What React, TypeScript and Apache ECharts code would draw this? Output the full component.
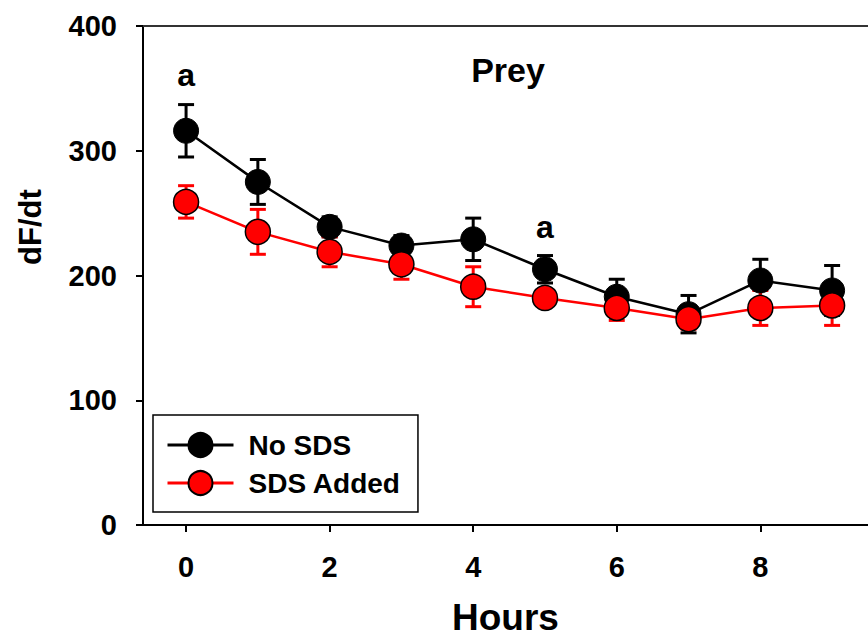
import { useEffect, useRef } from "react";
import * as echarts from "echarts";

const hours = [0, 1, 2, 3, 4, 5, 6, 7, 8, 9];
const noSds = [316, 275, 239, 224, 229, 205, 183, 169, 196, 188];
const noSdsErr = [21, 18, 8, 8, 17, 11, 14, 15, 17, 20];
const sdsAdded = [259, 235, 219, 209, 191, 182, 174, 165, 174, 176];
const sdsAddedErr = [13, 18, 12, 12, 16, 7, 10, 8, 14, 16];
const xTicks = [0, 2, 4, 6, 8];
const annotations = [
  { hour: 0, value: 361, text: "a" },
  { hour: 5, value: 239, text: "a" },
];
const seriesNames = ["No SDS", "SDS Added"];

const FONT = "'Liberation Sans', Arial, sans-serif";

function errorSeries(vals: number[], errs: number[], color: string) {
  return {
    type: "custom",
    silent: true,
    data: hours.map((h, i) => [h, vals[i], errs[i]]),
    renderItem: (_params: any, api: any) => {
      const x = api.value(0);
      const y = api.value(1);
      const e = api.value(2);
      const top = api.coord([x, y + e]);
      const bot = api.coord([x, y - e]);
      const hw = 8;
      const style = { stroke: color, lineWidth: 3 };
      return {
        type: "group",
        children: [
          { type: "line", shape: { x1: top[0], y1: top[1], x2: bot[0], y2: bot[1] }, style },
          { type: "line", shape: { x1: top[0] - hw, y1: top[1], x2: top[0] + hw, y2: top[1] }, style },
          { type: "line", shape: { x1: bot[0] - hw, y1: bot[1], x2: bot[0] + hw, y2: bot[1] }, style },
        ],
      };
    },
  };
}

export default function App() {
  const ref = useRef<HTMLDivElement>(null);
  useEffect(() => {
    if (!ref.current) return;
    const chart = echarts.init(ref.current, null, { renderer: "svg" });
    const axisCommon = {
      type: "value",
      min: -0.6,
      max: 9.5,
      splitLine: { show: false },
    };
    chart.setOption({
      animation: false,
      backgroundColor: "#fff",
      grid: { left: 143, top: 26, right: 0, bottom: 118 },
      xAxis: [
        {
          ...axisCommon,
          position: "bottom",
          name: "Hours",
          nameLocation: "middle",
          nameGap: 74,
          nameTextStyle: { fontFamily: FONT, fontWeight: "bold", fontSize: 37, color: "#000" },
          axisLine: { show: true, onZero: false, lineStyle: { color: "#000", width: 2 } },
          axisTick: { show: true, length: 7, inside: false, customValues: xTicks, lineStyle: { color: "#000", width: 2 } },
          axisLabel: {
            customValues: xTicks,
            margin: 27,
            fontFamily: FONT,
            fontWeight: "bold",
            fontSize: 29,
            color: "#000",
          },
        },
        {
          ...axisCommon,
          position: "top",
          axisLine: { show: true, onZero: false, lineStyle: { color: "#333", width: 2 } },
          axisTick: { show: false },
          axisLabel: { show: false },
        },
      ],
      yAxis: {
        type: "value",
        min: 0,
        max: 400,
        interval: 100,
        splitLine: { show: false },
        axisLine: { show: true, onZero: false, lineStyle: { color: "#000", width: 2 } },
        axisTick: { show: true, length: 7, lineStyle: { color: "#000", width: 2 } },
        axisLabel: { margin: 26, fontFamily: FONT, fontWeight: "bold", fontSize: 29, color: "#000" },
      },
      legend: {
        orient: "vertical",
        left: 153,
        top: 415,
        data: seriesNames,
        borderColor: "#000",
        borderWidth: 1.5,
        padding: [15, 17, 14, 13],
        itemWidth: 66,
        itemHeight: 30,
        itemGap: 8,
        lineStyle: { width: 3 },
        textStyle: {
          fontFamily: FONT,
          fontWeight: "bold",
          fontSize: 28,
          lineHeight: 30,
          color: "#000",
          padding: [0, 0, 0, 10],
        },
      },
      graphic: [
        {
          type: "text",
          x: 508,
          y: 70,
          style: {
            text: "Prey",
            fontFamily: FONT,
            fontWeight: "bold",
            fontSize: 34,
            fill: "#000",
            textAlign: "center",
            textVerticalAlign: "middle",
          },
        },
        {
          type: "text",
          x: 30,
          y: 227,
          rotation: Math.PI / 2,
          style: {
            text: "dF/dt",
            fontFamily: FONT,
            fontWeight: "bold",
            fontSize: 31,
            fill: "#000",
            textAlign: "center",
            textVerticalAlign: "middle",
          },
        },
      ],
      series: [
        errorSeries(noSds, noSdsErr, "#000"),
        {
          name: seriesNames[0],
          type: "line",
          data: hours.map((h, i) => [h, noSds[i]]),
          symbol: "circle",
          symbolSize: 25,
          itemStyle: { color: "#000", borderColor: "#000", borderWidth: 1 },
          lineStyle: { color: "#000", width: 2.5 },
        },
        errorSeries(sdsAdded, sdsAddedErr, "#ff0000"),
        {
          name: seriesNames[1],
          type: "line",
          data: hours.map((h, i) => [h, sdsAdded[i]]),
          symbol: "circle",
          symbolSize: 25,
          itemStyle: { color: "#ff0000", borderColor: "#000", borderWidth: 1.5 },
          lineStyle: { color: "#ff0000", width: 2.5 },
        },
        {
          type: "scatter",
          silent: true,
          symbolSize: 0,
          itemStyle: { opacity: 1 },
          data: annotations.map((a) => [a.hour, a.value, a.text]),
          label: {
            show: true,
            position: "inside",
            formatter: (p: any) => p.value[2],
            fontFamily: FONT,
            fontWeight: "bold",
            fontSize: 32,
            color: "#000",
            opacity: 1,
          },
        },
      ],
    });
    return () => chart.dispose();
  }, []);
  return <div ref={ref} style={{ position: "absolute", left: 0, top: 0, width: 868, height: 643 }} />;
}
